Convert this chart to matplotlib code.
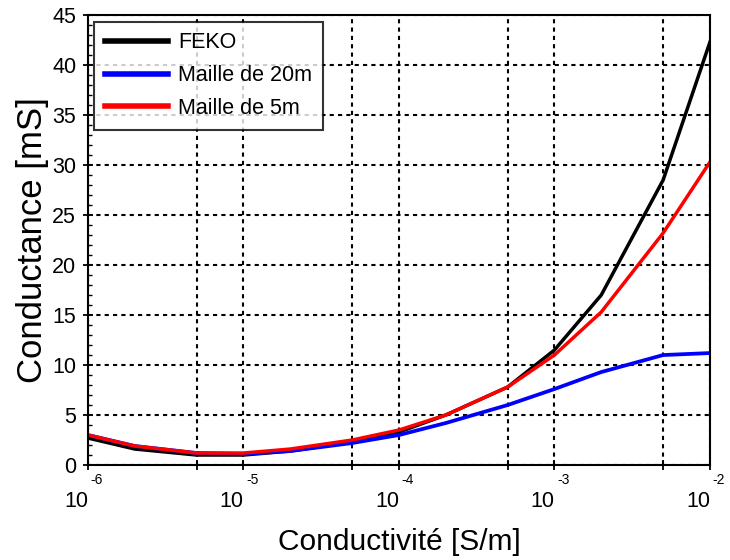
import matplotlib
matplotlib.use("Agg")
import matplotlib.pyplot as plt
from matplotlib.ticker import LogLocator, MultipleLocator, NullFormatter, FixedLocator, FixedFormatter

plt.rcParams['font.family'] = ['Liberation Sans', 'DejaVu Sans']

# conductivity [S/m]
sigma = [1e-6, 2e-6, 5e-6, 1e-5, 2e-5, 5e-5, 1e-4, 2e-4, 5e-4, 1e-3, 2e-3, 5e-3, 1e-2]
# conductance [mS]
feko = [2.7, 1.6, 1.0, 1.0, 1.4, 2.3, 3.3, 5.0, 7.8, 11.5, 17.0, 28.5, 42.3]
maille_20m = [3.0, 1.9, 1.2, 1.1, 1.4, 2.2, 3.0, 4.2, 6.0, 7.6, 9.3, 11.0, 11.2]
maille_5m = [3.0, 1.9, 1.2, 1.2, 1.6, 2.5, 3.5, 5.0, 7.8, 11.0, 15.3, 23.2, 30.3]

decades = [1e-6, 1e-5, 1e-4, 1e-3, 1e-2]
exponents = ['-6', '-5', '-4', '-3', '-2']

fig = plt.figure(figsize=(7.3, 5.6), dpi=100)
ax = fig.add_axes([0.1205, 0.1696, 0.852, 0.8034])

ax.plot(sigma, feko, color='black', lw=2.5, label='FEKO')
ax.plot(sigma, maille_20m, color='blue', lw=2.7, label='Maille de 20m')
ax.plot(sigma, maille_5m, color='red', lw=2.5, label='Maille de 5m')

ax.set_xscale('log')
ax.set_xlim(1e-6, 1e-2)
ax.set_ylim(0, 45)

ax.xaxis.set_major_locator(FixedLocator(decades))
ax.xaxis.set_major_formatter(FixedFormatter(['10'] * len(decades)))
ax.xaxis.set_minor_locator(LogLocator(base=10, subs=[5.0], numticks=10))
ax.xaxis.set_minor_formatter(NullFormatter())
ax.yaxis.set_major_locator(MultipleLocator(5))
ax.yaxis.set_minor_locator(MultipleLocator(1))

ax.grid(True, which='both', axis='x', color='black', linestyle=(0, (2, 2)), lw=1.5)
ax.grid(True, which='major', axis='y', color='black', linestyle=(0, (2, 2)), lw=1.5)

ax.tick_params(axis='x', which='both', direction='inout', length=7, width=1.3,
               labelsize=15.5, pad=15.5)
ax.tick_params(axis='y', which='major', direction='inout', length=7, width=1.3,
               labelsize=15.5, pad=5)
ax.tick_params(axis='y', which='minor', direction='in', length=3, width=1)
for lab in ax.get_xticklabels():
    lab.set_horizontalalignment('right')

# superscript exponents next to the "10" labels
for d, e in zip(decades, exponents):
    ax.annotate(e, xy=(d, 0), xycoords=('data', 'axes fraction'),
                xytext=(2, -11), textcoords='offset points',
                ha='left', va='center', fontsize=10)

for s in ax.spines.values():
    s.set_linewidth(1.5)

ax.set_xlabel('Conductivité [S/m]', fontsize=21.5, labelpad=11)
ax.set_ylabel('Conductance [mS]', fontsize=25, labelpad=2)

leg = ax.legend(loc='upper left', fontsize=15.5, frameon=True, fancybox=False,
                edgecolor='black', handlelength=2.9, handletextpad=0.5,
                borderpad=0.5, labelspacing=0.55, borderaxespad=0.3)
leg.get_frame().set_linewidth(1.5)
for l in leg.get_lines():
    l.set_linewidth(4)

fig.savefig('out.png', dpi=100)
